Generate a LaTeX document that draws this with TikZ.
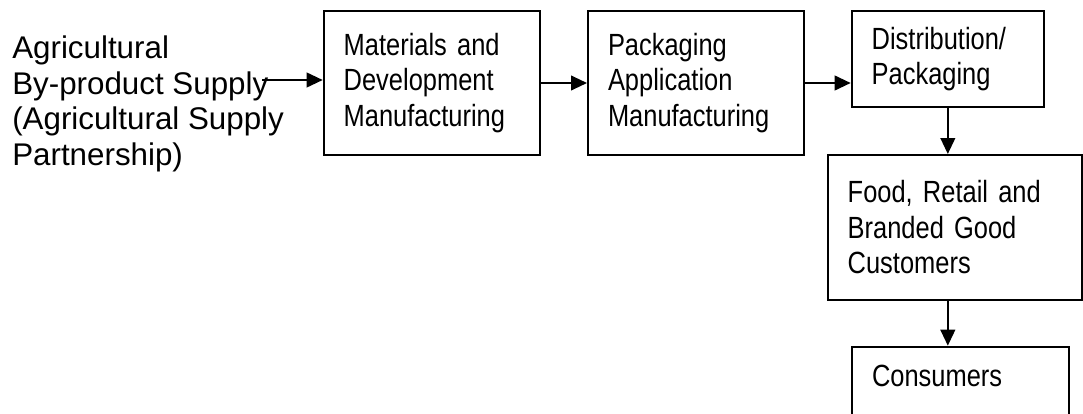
\documentclass[tikz,border=0pt]{standalone}
\usepackage{fontspec}
\setmainfont{Liberation Sans}
\newfontfamily\narrowsans[FakeStretch=0.83]{Liberation Sans}
\usepackage{tikz}
\usetikzlibrary{arrows.meta,positioning,calc}

\begin{document}
\begin{tikzpicture}[
        x=0.75pt,y=-0.75pt,
        plain/.style={font=\fontsize{23.5}{26.6}\selectfont,align=left,inner sep=0pt},
        box/.style={draw,line width=1.5pt,font={\narrowsans\fontsize{23}{26.6}\selectfont},align=left,text width=#1,inner xsep=15pt,inner ysep=0pt,anchor=north west},
        arr/.style={-{Triangle[length=12pt,width=11pt]},line width=1.5pt}
      ]
        \clip (0,0) rectangle (1083,414);
        \node[plain,anchor=north west] (agri) at (12,36) {Agricultural\\By-product Supply\\(Agricultural Supply\\Partnership)};
        \node[box=132.2pt,minimum height=108pt] (matdev) at (322.7,10) {Materials and\\Development\\Manufacturing};
        \node[box=131.8pt,minimum height=108pt] (pkgapp) at (587,10) {Packaging\\Application\\Manufacturing};
        \node[box=114.2pt,minimum height=72pt] (distpk) at (850.7,10) {Distribution/\\Packaging};
        \node[box=160.7pt,minimum height=108.75pt] (food) at (826.7,154) {Food, Retail and\\Branded Good\\Customers};
        \node[box=132.5pt,inner ysep=13pt,text height=17pt,text depth=60pt] (cons) at (851,345.7) {Consumers};
        \coordinate (feed) at (262,80);
        \draw[arr] (feed) -- (feed -| matdev.west);
        \draw[arr] (matdev.east) -- (pkgapp.west);
        \draw[arr] (pkgapp.east) -- (pkgapp.east -| distpk.west);
        \draw[arr] (distpk.south) -- (distpk.south |- food.north);
        \draw[arr] (distpk.south |- food.south) -- (distpk.south |- cons.north);
      \end{tikzpicture}
\end{document}
